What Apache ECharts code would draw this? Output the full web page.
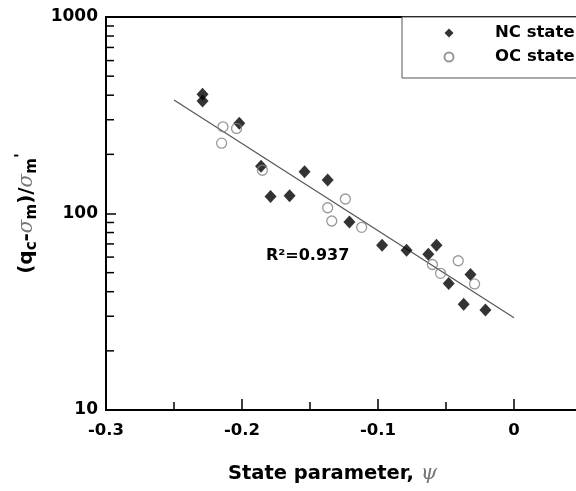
<!DOCTYPE html>
<html>
<head>
<meta charset="utf-8">
<script src="https://cdn.jsdelivr.net/npm/echarts@6/dist/echarts.min.js"></script>
<style>
  html, body { margin: 0; padding: 0; background: #fff; }
  #chart { width: 576px; height: 491px; }
</style>
</head>
<body>
<div id="chart"></div>
<script>
// Normally consolidated (NC) specimens: state parameter psi, normalised tip resistance
const ncPsi = [-0.229, -0.229, -0.202, -0.186, -0.154, -0.137, -0.179, -0.165, -0.121,
               -0.097, -0.079, -0.063, -0.057, -0.048, -0.032, -0.037, -0.021];
const ncQ   = [405, 374, 288, 174, 163, 148, 122, 123, 90.5,
               69, 65, 62, 69, 44, 49, 34.5, 32.3];

// Over-consolidated (OC) specimens
const ocPsi = [-0.214, -0.204, -0.215, -0.185, -0.137, -0.124, -0.134, -0.112,
               -0.060, -0.041, -0.054, -0.029];
const ocQ   = [276, 271, 228, 166, 107, 118.5, 91.6, 85,
               55, 57.5, 49.6, 43.8];

// Fitted trend line (R^2 = 0.937), end points
const fitPsi = [-0.25, 0];
const fitQ   = [378, 29.5];

// Axis extents and log-axis minor tick values
const xMin = -0.3, xMax = 0.05, xStep = 0.1;
const yMin = 10, yMax = 1000;
const yMinorTicks = [20, 30, 40, 50, 60, 70, 80, 90, 200, 300, 400, 500, 600, 700, 800, 900];

const FONT = '"DejaVu Sans", sans-serif';
const SERIF = '"DejaVu Serif", serif';
const zip = (a, b) => a.map((v, i) => [v, b[i]]);

const chart = echarts.init(document.getElementById('chart'), null, { renderer: 'canvas' });

chart.setOption({
  animation: false,
  backgroundColor: '#fff',
  grid: {
    left: 106, top: 17, width: 476, height: 393,
    outerBoundsMode: 'none',
    show: true, borderColor: '#000', borderWidth: 2, backgroundColor: 'transparent'
  },
  legend: {
    data: ['NC state', 'OC state'],
    orient: 'vertical',
    left: 402, top: 17,
    padding: [7, 40, 12, 41.5],
    itemGap: 6,
    itemWidth: 9, itemHeight: 9,
    borderColor: '#555', borderWidth: 1,
    backgroundColor: '#fff',
    textStyle: { fontFamily: FONT, fontWeight: 'bold', fontSize: 16.5, color: '#000',
                 lineHeight: 18, padding: [0, 0, 0, 36.5] }
  },
  xAxis: {
    type: 'value', min: xMin, max: xMax, interval: xStep,
    axisLine: { show: true, onZero: false, lineStyle: { color: '#000', width: 2 } },
    axisTick: { show: true, inside: true, length: 11, lineStyle: { color: '#000', width: 1.5 } },
    minorTick: { show: true, splitNumber: 2, length: 8, lineStyle: { color: '#000', width: 1.5 } },
    splitLine: { show: false },
    axisLabel: {
      fontFamily: FONT, fontWeight: 'bold', fontSize: 16.5, color: '#000', margin: 12,
      showMaxLabel: false,
      formatter: v => (Math.abs(v) < 1e-9 ? '0' : String(Math.round(v * 10) / 10))
    }
  },
  yAxis: {
    type: 'log', logBase: 10, min: yMin, max: yMax,
    axisLine: { show: true, onZero: false, lineStyle: { color: '#000', width: 2 } },
    axisTick: { show: true, inside: true, length: 10, lineStyle: { color: '#000', width: 1.5 } },
    splitLine: { show: false },
    axisLabel: {
      fontFamily: FONT, fontWeight: 'bold', fontSize: 17, color: '#000', margin: 8,
      formatter: v => String(Math.round(v))
    },
    name: '{b|(q}{s|c}{b|-}{g|σ}{s|m}{b|)/}{g|σ}{s|m}{p|\'}',
    nameLocation: 'middle',
    nameRotate: 90,
    nameGap: 60,
    nameTextStyle: {
      rich: {
        b: { fontFamily: FONT, fontWeight: 'bold', fontSize: 20, color: '#000', lineHeight: 26, verticalAlign: 'middle' },
        s: { fontFamily: FONT, fontWeight: 'bold', fontSize: 15, color: '#000', lineHeight: 15, verticalAlign: 'bottom' },
        g: { fontFamily: SERIF, fontStyle: 'italic', fontSize: 20, color: '#777', lineHeight: 26, verticalAlign: 'middle' },
        p: { fontFamily: FONT, fontWeight: 'bold', fontSize: 16, color: '#000', lineHeight: 16, verticalAlign: 'top' }
      }
    }
  },
  graphic: [
    {
      type: 'text', x: 228, y: 474,
      style: {
        text: '{b|State parameter, }{g|ψ}',
        verticalAlign: 'middle',
        rich: {
          b: { fontFamily: FONT, fontWeight: 'bold', fontSize: 19.5, fill: '#000' },
          g: { fontFamily: SERIF, fontStyle: 'italic', fontSize: 21, fill: '#777' }
        }
      }
    },
    {
      type: 'text', x: 266, y: 256,
      style: { text: 'R²=0.937', verticalAlign: 'middle',
               fontFamily: FONT, fontWeight: 'bold', fontSize: 16, fill: '#000' }
    }
  ],
  series: [
    {
      name: 'fit',
      type: 'line',
      data: zip(fitPsi, fitQ),
      symbol: 'none',
      lineStyle: { color: '#555', width: 1.2 },
      z: 1
    },
    {
      name: 'NC state',
      type: 'scatter',
      data: zip(ncPsi, ncQ),
      symbol: 'diamond',
      symbolSize: [12, 13],
      itemStyle: { color: '#000' },
      z: 2
    },
    {
      name: 'OC state',
      type: 'scatter',
      data: zip(ocPsi, ocQ),
      symbol: 'circle',
      symbolSize: 10,
      itemStyle: { color: 'rgba(255,255,255,0)', borderColor: '#808080', borderWidth: 1.3 },
      z: 3
    },
    {
      // minor ticks of the logarithmic axis (2..9 per decade)
      name: 'yMinor',
      type: 'custom',
      data: yMinorTicks.map(v => [xMin, v]),
      silent: true,
      clip: false,
      renderItem: function (params, api) {
        const p = api.coord([api.value(0), api.value(1)]);
        return {
          type: 'line',
          shape: { x1: p[0], y1: p[1], x2: p[0] + 8, y2: p[1] },
          style: { stroke: '#000', lineWidth: 1.5 }
        };
      },
      z: 4
    }
  ]
});
</script>
</body>
</html>
